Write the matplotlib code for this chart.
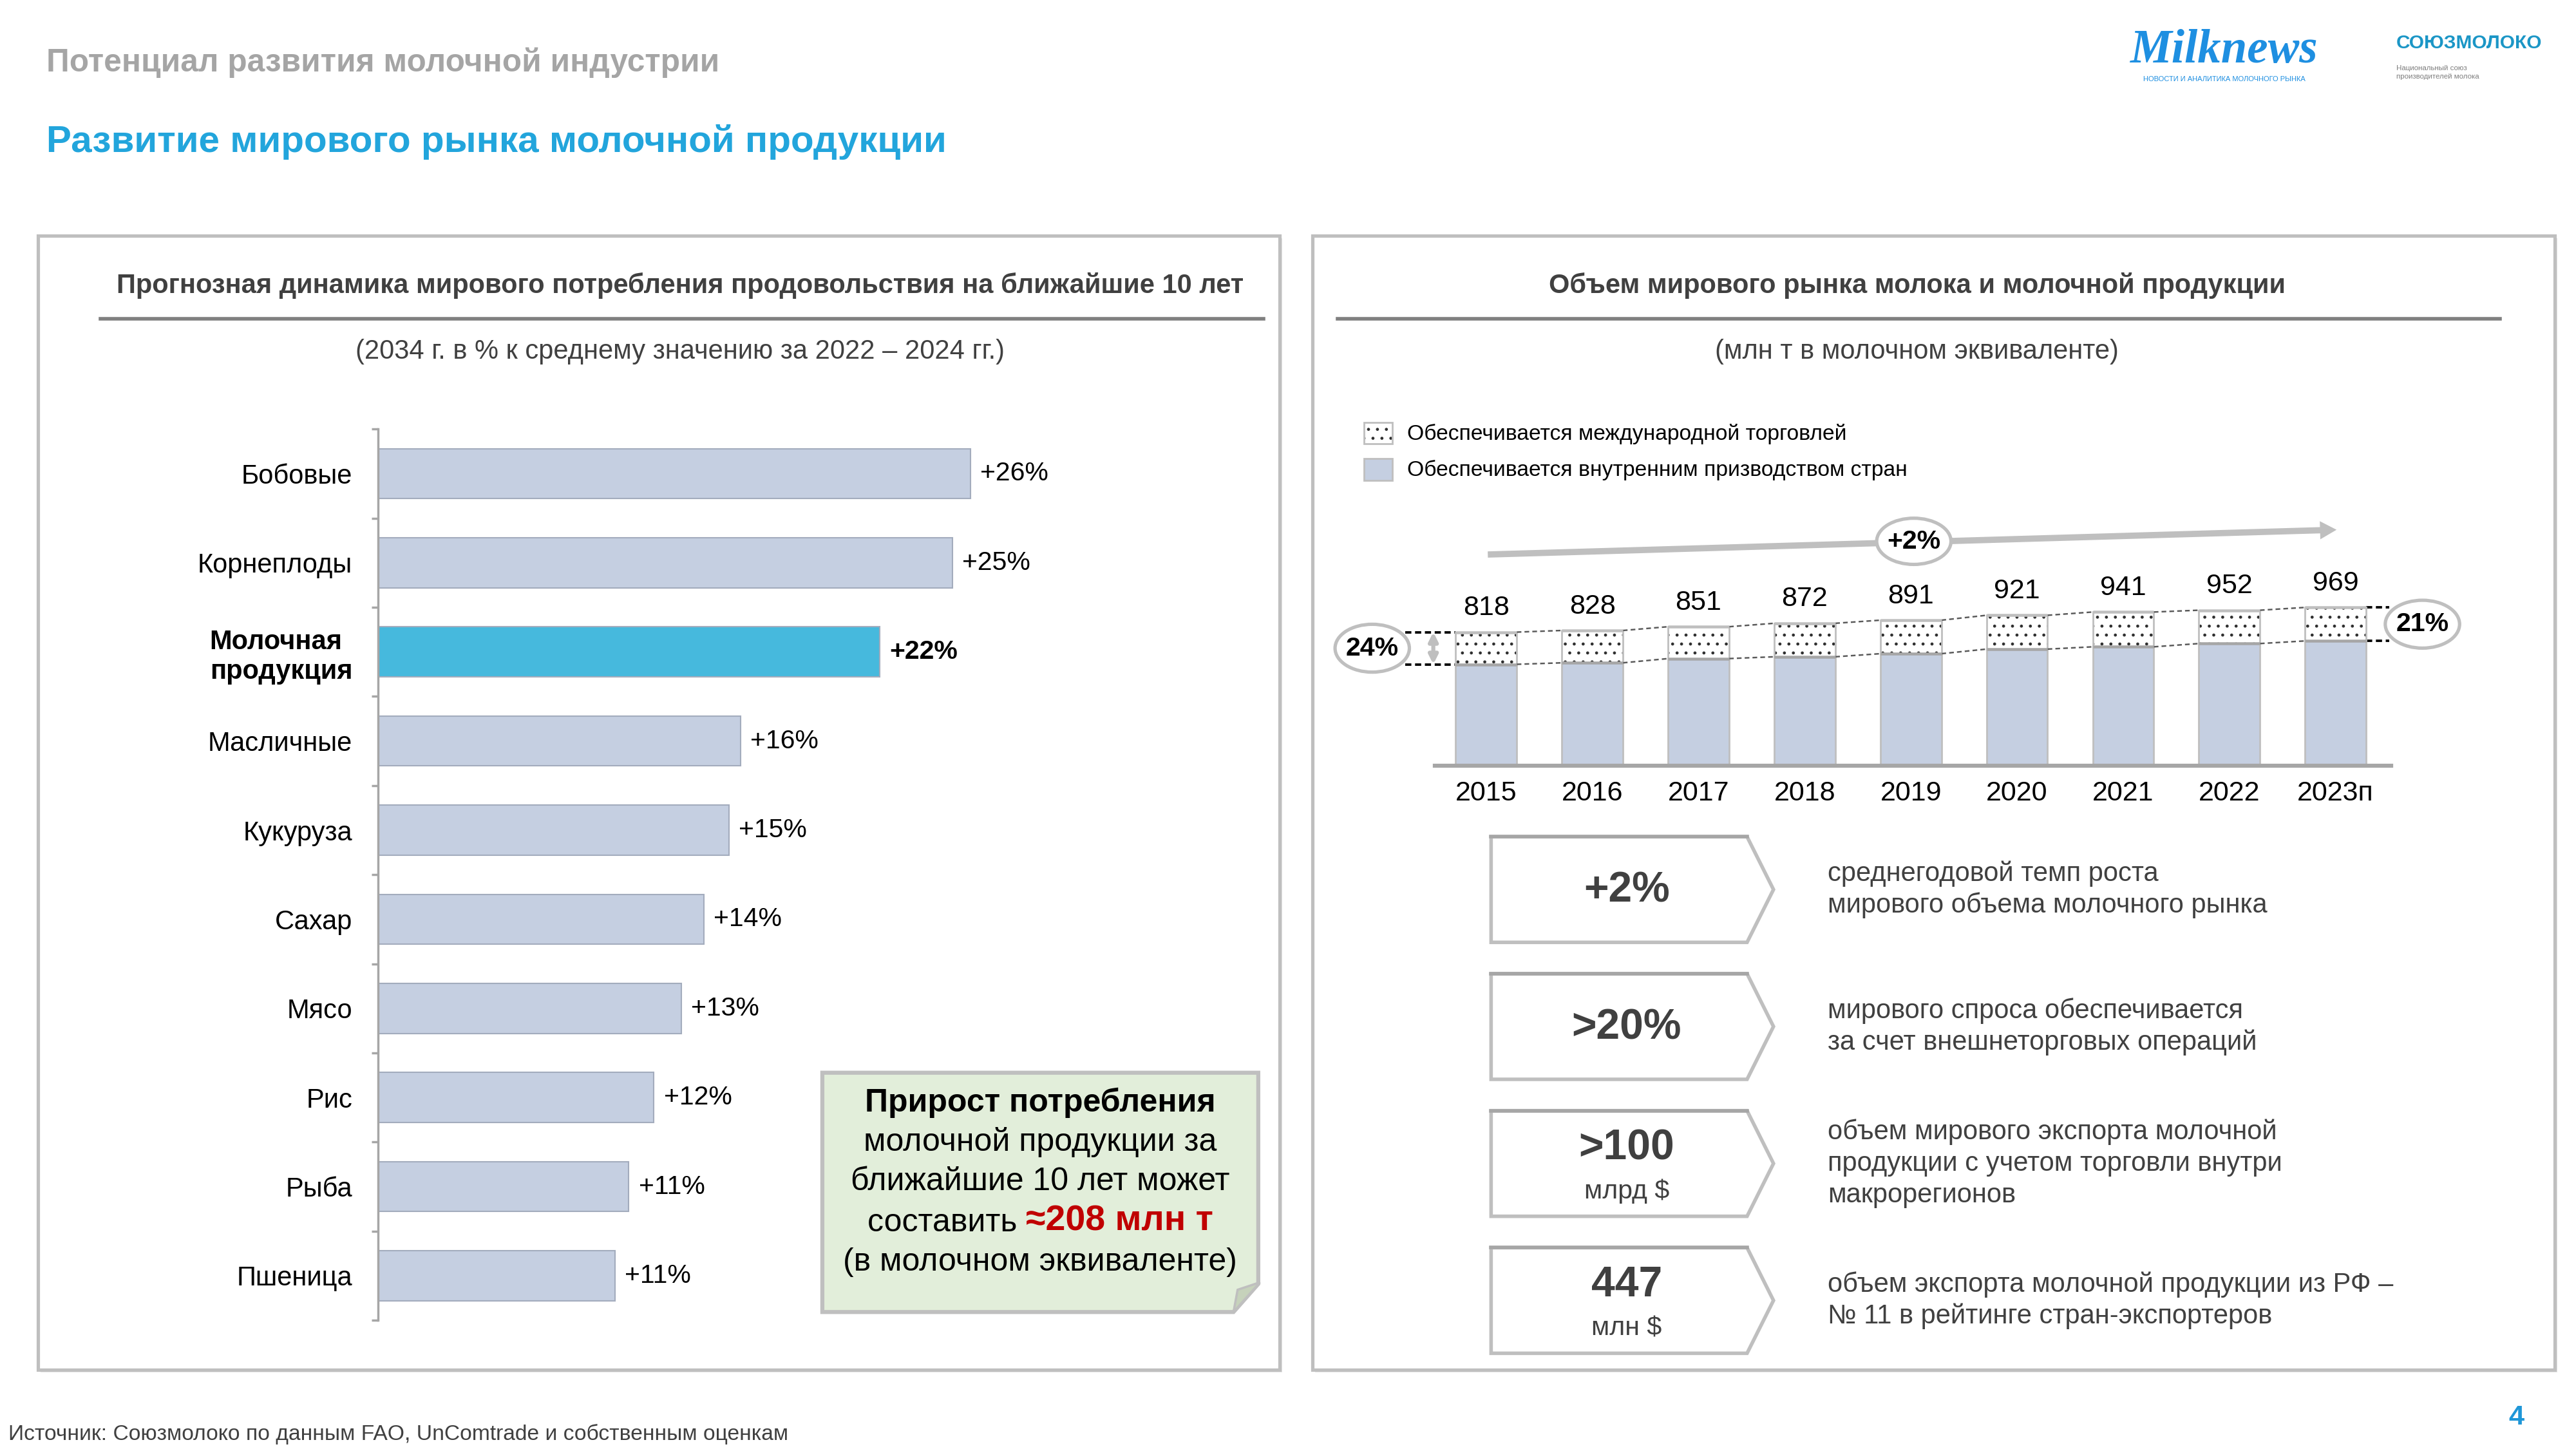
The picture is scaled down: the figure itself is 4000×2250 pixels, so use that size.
import matplotlib
matplotlib.use('Agg')
import matplotlib.pyplot as plt
from matplotlib.patches import Rectangle, Polygon, FancyArrow, Ellipse
import numpy as np

plt.rcParams['font.family'] = ['Liberation Sans', 'DejaVu Sans']
plt.rcParams['hatch.linewidth'] = 0.55

# ---------------- data ----------------
food_categories = ['Бобовые', 'Корнеплоды', 'Молочная\nпродукция', 'Масличные', 'Кукуруза',
                   'Сахар', 'Мясо', 'Рис', 'Рыба', 'Пшеница']
food_growth = [26.0, 25.2, 22.0, 15.9, 15.4, 14.3, 13.3, 12.1, 11.0, 10.4]
food_labels = ['+26%', '+25%', '+22%', '+16%', '+15%', '+14%', '+13%', '+12%', '+11%', '+11%']
highlight_category = 'Молочная\nпродукция'

years = ['2015', '2016', '2017', '2018', '2019', '2020', '2021', '2022', '2023п']
market_total = [818, 828, 851, 872, 891, 921, 941, 952, 969]
market_trade = [197, 198, 195, 205, 205, 207, 213, 204, 205]
market_growth_label = '+2%'

legend_labels = ['Обеспечивается международной торговлей',
                 'Обеспечивается внутренним призводством стран']

kpi_values = ['+2%', '>20%', '>100', '447']
kpi_units = ['', '', 'млрд $', 'млн $']
kpi_texts = ['среднегодовой темп роста\nмирового объема молочного рынка',
             'мирового спроса обеспечивается\nза счет внешнеторговых операций',
             'объем мирового экспорта молочной\nпродукции с учетом торговли внутри\nмакрорегионов',
             'объем экспорта молочной продукции из РФ –\n№ 11 в рейтинге стран-экспортеров']

# ---------------- figure ----------------
W, H = 1560.0, 878.0
fig = plt.figure(figsize=(16, 9), dpi=250)
fig.patch.set_facecolor('white')

def fx(x):
    return x / W

def fy(y):
    return 1 - y / H

ov = fig.add_axes([0, 0, 1, 1], zorder=0)
ov.set_xlim(0, W)
ov.set_ylim(H, 0)
ov.axis('off')

DARK = '#404040'
BORDER = '#BFBFBF'
BAR = '#C5CFE1'
HIGHLIGHT = '#46B9DD'

# header
ov.text(28, 38, 'Потенциал развития молочной индустрии', fontsize=14.3, fontweight='bold',
        color='#A5A5A5', ha='left', va='center')
ov.text(28, 86, 'Развитие мирового рынка молочной продукции', fontsize=16.8, fontweight='bold',
        color='#22A5DC', ha='left', va='center')

# logos
ov.text(1347, 31, 'Milknews', fontsize=21, fontweight='bold', style='italic',
        family=['Liberation Serif', 'DejaVu Serif'], color='#1E8FE1', ha='center', va='center')
ov.text(1347, 48, 'НОВОСТИ И АНАЛИТИКА МОЛОЧНОГО РЫНКА', fontsize=3.2, color='#1E8FE1',
        ha='center', va='center')
ov.text(1451, 26, 'СОЮЗМОЛОКО', fontsize=8.6, fontweight='bold', color='#1B96C6',
        ha='left', va='center')
ov.text(1451, 44, 'Национальный союз\nпроизводителей молока', fontsize=3.3, color='#7F7F7F',
        ha='left', va='center', linespacing=1.4)

# panels
for x0 in (23, 795):
    ov.add_patch(Rectangle((x0 + 1.5, 144.5), 752, 687, fc='#E6E6E6', ec='none', zorder=0))
    ov.add_patch(Rectangle((x0, 143), 752, 687, fc='white', ec=BORDER, lw=1.5, zorder=1))

# panel titles
ov.text(412, 173, 'Прогнозная динамика мирового потребления продовольствия на ближайшие 10 лет',
        fontsize=12.0, fontweight='bold', color=DARK, ha='center', va='center', zorder=3)
ov.plot([61, 765], [193, 193], color='#7F7F7F', lw=1.6, zorder=3)
ov.text(412, 213, '(2034 г. в % к среднему значению за 2022 – 2024 гг.)', fontsize=12.0,
        color=DARK, ha='center', va='center', zorder=3)

ov.text(1161, 173, 'Объем мирового рынка молока и молочной продукции',
        fontsize=12.0, fontweight='bold', color=DARK, ha='center', va='center', zorder=3)
ov.plot([810, 1514], [193, 193], color='#7F7F7F', lw=1.6, zorder=3)
ov.text(1161, 213, '(млн т в молочном эквиваленте)', fontsize=12.0,
        color=DARK, ha='center', va='center', zorder=3)

# source and page number
ov.text(5, 869, 'Источник: Союзмолоко по данным FAO, UnComtrade и собственным оценкам',
        fontsize=9.7, color=DARK, ha='left', va='center')
ov.text(1524, 859, '4', fontsize=12.5, fontweight='bold', color='#1F97D8', ha='center', va='center')

# ---------------- left chart ----------------
ax1 = fig.add_axes([fx(229), fy(800), (762 - 229) / W, (800 - 260) / H], zorder=2)
ax1.patch.set_alpha(0)
ypos = np.arange(len(food_categories))
colors = [HIGHLIGHT if c == highlight_category else BAR for c in food_categories]
ax1.barh(ypos, food_growth, height=0.56, color=colors, edgecolor='#A3ACBD', linewidth=0.6)
ax1.set_xlim(0, (762 - 229) / 13.8)
ax1.set_ylim(len(food_categories) - 0.5, -0.5)
for s in ['top', 'right', 'bottom']:
    ax1.spines[s].set_visible(False)
ax1.spines['left'].set_color('#A6A6A6')
ax1.spines['left'].set_linewidth(1.0)
ax1.set_xticks([])
ax1.set_yticks(ypos)
ax1.set_yticklabels(food_categories)
ax1.set_yticks(np.arange(-0.5, len(food_categories), 1), minor=True)
ax1.tick_params(axis='y', which='major', length=0, pad=11.5, labelsize=12, labelcolor='black')
ax1.tick_params(axis='y', which='minor', length=3, width=1.0, color='#A6A6A6')
for lab in ax1.get_yticklabels():
    if lab.get_text() == highlight_category:
        lab.set_fontweight('bold')
        lab.set_multialignment('left')
for i, (v, lab, c) in enumerate(zip(food_growth, food_labels, food_categories)):
    ax1.annotate(lab, xy=(v, i), xytext=(4.4, 0), textcoords='offset points',
                 ha='left', va='center', fontsize=11.8, color='black',
                 fontweight='bold' if c == highlight_category else 'normal')

# green note
note = Polygon([(498, 650), (762, 650), (762, 778), (747, 795), (498, 795)],
               closed=True, fc='#E2EEDA', ec=BORDER, lw=1.8, zorder=3)
ov.add_patch(note)
ov.add_patch(Polygon([(747, 795), (763, 777), (749.5, 781.5)], closed=True,
                     fc='#C6D2BB', ec=BORDER, lw=1.0, zorder=4))
nx = 630
NFS = 14.4
ov.text(nx, 668, 'Прирост потребления', fontsize=NFS, fontweight='bold', color='black',
        ha='center', va='center', zorder=5)
ov.text(nx, 692, 'молочной продукции за', fontsize=NFS, color='black',
        ha='center', va='center', zorder=5)
ov.text(nx, 716, 'ближайшие 10 лет может', fontsize=NFS, color='black',
        ha='center', va='center', zorder=5)
t_a = ov.text(0, 741, 'составить ', fontsize=NFS, color='black', ha='left', va='center', zorder=5)
t_b = ov.text(0, 740, '≈208 млн т', fontsize=16, fontweight='bold', color='#C00000',
              ha='left', va='center', zorder=5)
ov.text(nx, 765, '(в молочном эквиваленте)', fontsize=NFS, color='black',
        ha='center', va='center', zorder=5)
renderer = fig.canvas.get_renderer()
inv = ov.transData.inverted()
def width_data(t):
    bb = t.get_window_extent(renderer)
    p0 = inv.transform((bb.x0, bb.y0))
    p1 = inv.transform((bb.x1, bb.y0))
    return p1[0] - p0[0]
wa, wb = width_data(t_a), width_data(t_b)
start = nx - (wa + wb) / 2
t_a.set_x(start)
t_b.set_x(start + wa)

# ---------------- right chart ----------------
k_px = 0.099            # display px per unit
px_x = 64.3             # display px per category
ax2 = fig.add_axes([fx(869), fy(464), (1448 - 869) / W, (464 - 340) / H], zorder=2)
ax2.patch.set_alpha(0)
x = np.arange(len(years))
total = np.array(market_total, dtype=float)
trade = np.array(market_trade, dtype=float)
domestic = total - trade
bw = 0.575
ax2.bar(x, domestic, width=bw, color=BAR, edgecolor=BORDER, linewidth=0.8, zorder=2)
ax2.bar(x, trade, bottom=domestic, width=bw, color='white', edgecolor='#303030',
        hatch='...', linewidth=0, zorder=2)
ax2.bar(x, trade, bottom=domestic, width=bw, fill=False, edgecolor=BORDER, linewidth=0.8, zorder=3)
ax2.hlines(domestic, x - bw / 2, x + bw / 2, color='#A6A6A6', lw=1.3, zorder=4)
ax2.hlines(total, x - bw / 2, x + bw / 2, color='#BFBFBF', lw=1.3, zorder=4)
for i in range(len(x) - 1):
    for arr in (total, domestic):
        ax2.plot([x[i] + bw / 2, x[i + 1] - bw / 2], [arr[i], arr[i + 1]],
                 color='#595959', lw=0.7, ls=(0, (3, 2)), zorder=3)
ax2.set_xlim((869 - 900) / px_x, (1448 - 900) / px_x)
ax2.set_ylim(0, 124 / k_px)
for s in ['top', 'right', 'left']:
    ax2.spines[s].set_visible(False)
ax2.spines['bottom'].set_color('#A6A6A6')
ax2.spines['bottom'].set_linewidth(1.8)
ax2.set_yticks([])
ax2.set_xticks(x)
ax2.set_xticklabels(years)
ax2.tick_params(axis='x', length=0, pad=6.5, labelsize=12.4, labelcolor='black')
for i, v in enumerate(market_total):
    ax2.annotate(str(v), xy=(x[i], v), xytext=(0, 5), textcoords='offset points',
                 ha='center', va='bottom', fontsize=12.4, color='black')

share_first = round(trade[0] / total[0] * 100)
share_last = round(trade[-1] / total[-1] * 100)

def share_badge(xc, yc, label):
    ax2.add_patch(Ellipse((xc, yc), 45 / px_x, 29 / k_px, fc='white', ec=BORDER, lw=1.5,
                          clip_on=False, zorder=6))
    ax2.text(xc, yc, label, fontsize=11.8, fontweight='bold', color='black',
             ha='center', va='center', clip_on=False, zorder=7)

# left share annotation
xl = (851 - 900) / px_x
for arr in (total, domestic):
    ax2.plot([xl, x[0] - bw / 2], [arr[0]] * 2, color='black', lw=1.1, ls=(0, (2.5, 1.5)),
             clip_on=False)
ax2.annotate('', xy=((868 - 900) / px_x, total[0]), xytext=((868 - 900) / px_x, domestic[0]),
             arrowprops=dict(arrowstyle='<|-|>', color='#BFBFBF', lw=1.8, mutation_scale=8,
                             shrinkA=0, shrinkB=0), annotation_clip=False)
share_badge((831 - 900) / px_x, (total[0] + domestic[0]) / 2, f'{share_first}%')
# right share annotation
xr = (1447 - 900) / px_x
for arr in (total, domestic):
    ax2.plot([x[-1] + bw / 2, xr], [arr[-1]] * 2, color='black', lw=1.1, ls=(0, (2.5, 1.5)),
             clip_on=False)
share_badge((1467 - 900) / px_x, (total[-1] + domestic[-1]) / 2, f'{share_last}%')

# growth arrow
ov.add_patch(FancyArrow(901, 336, 1415 - 901, 321 - 336, width=3.8, head_width=11, head_length=10,
                        length_includes_head=True, color='#BFBFBF', lw=0, zorder=3))
ov.add_patch(Ellipse((1159, 328), 45, 28, fc='white', ec=BORDER, lw=1.5, zorder=4))
ov.text(1159, 328, market_growth_label, fontsize=11.8, fontweight='bold', color='black',
        ha='center', va='center', zorder=5)

# legend
ov.add_patch(Rectangle((826, 256), 17, 13, fc='white', ec='#303030', hatch='...', lw=0, zorder=3))
ov.add_patch(Rectangle((826, 256), 17, 13, fill=False, ec=BORDER, lw=0.8, zorder=4))
ov.add_patch(Rectangle((826, 278), 17, 13, fc=BAR, ec=BORDER, lw=0.8, zorder=3))
ov.text(852, 263, legend_labels[0], fontsize=9.7, color='black', ha='left', va='center', zorder=4)
ov.text(852, 285, legend_labels[1], fontsize=9.7, color='black', ha='left', va='center', zorder=4)

# KPI chevrons
box_tops = [507, 590, 673, 756]
for top, val, unit, desc in zip(box_tops, kpi_values, kpi_units, kpi_texts):
    bot = top + 64
    mid = (top + bot) / 2
    pts = [(903, top), (1058, top), (1074, mid), (1058, bot), (903, bot)]
    ov.add_patch(Polygon(pts, closed=True, fc='white', ec=BORDER, lw=1.6, zorder=3))
    ov.plot([903, 1058], [top, top], color='#A6A6A6', lw=1.6, zorder=3.5)
    if unit:
        ov.text(985, mid - 9, val, fontsize=19, fontweight='bold', color=DARK,
                ha='center', va='center', zorder=4)
        ov.text(985, mid + 17, unit, fontsize=11.8, color=DARK, ha='center', va='center', zorder=4)
    else:
        ov.text(985, mid + 1, val, fontsize=19, fontweight='bold', color=DARK,
                ha='center', va='center', zorder=4)
    ov.text(1107, mid, desc, fontsize=12.0, color=DARK, ha='left', va='center',
            linespacing=1.28, zorder=4)

fig.savefig('out.png', dpi=250, facecolor='white')
